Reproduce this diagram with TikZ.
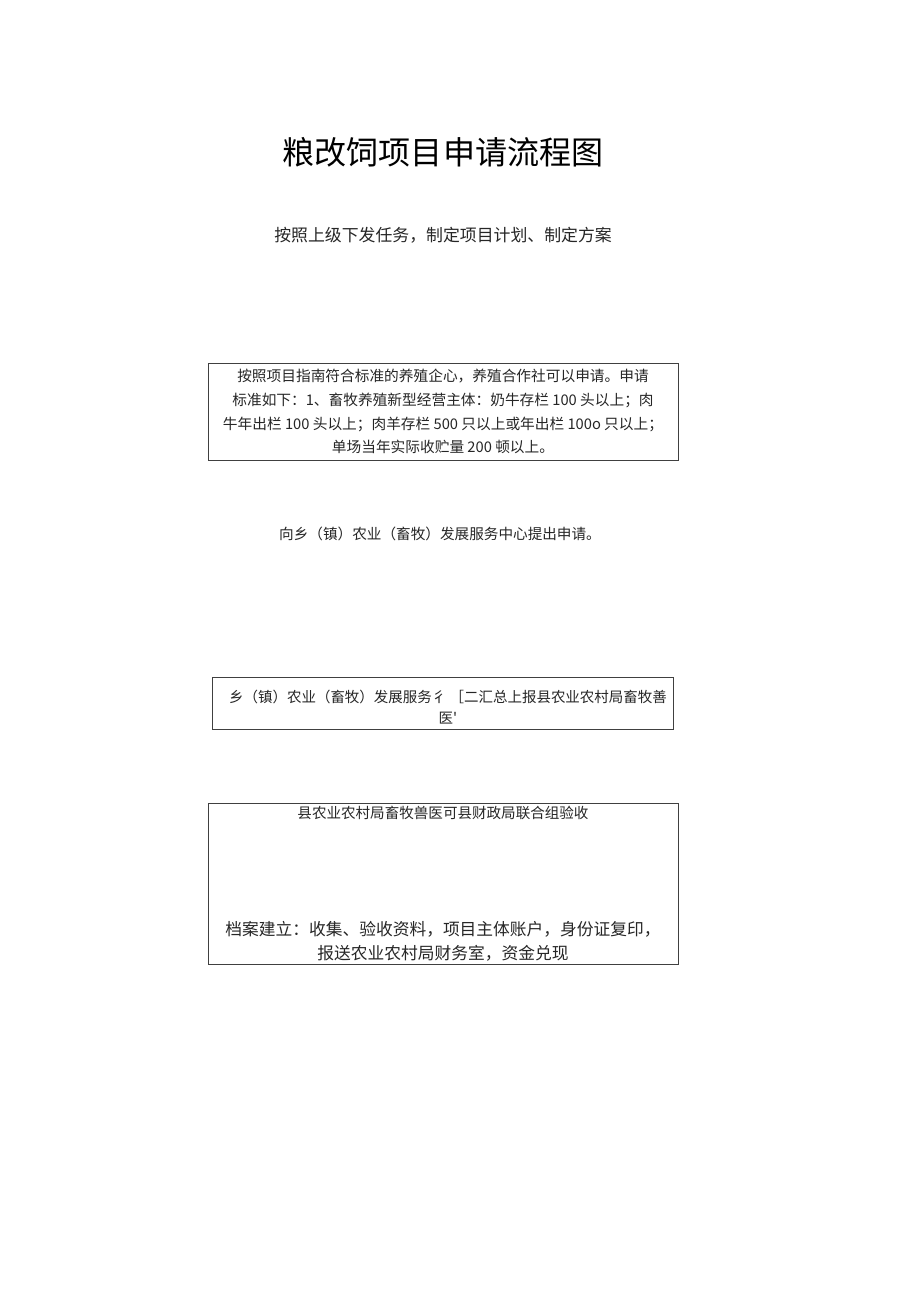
\documentclass[tikz,border=0pt]{standalone}
\usepackage{fontspec}
\newfontfamily\cjk{Noto Sans CJK SC}
\begin{document}
\begin{tikzpicture}[x=0.025cm,y=-0.025cm,
    box/.style={draw=black!75,line width=0.5pt,inner sep=0pt},
    txt/.style 2 args={font=\cjk\fontsize{#1}{#2}\selectfont,text=black!85,align=center,inner sep=0pt}]
\useasboundingbox[fill=white] (0,0) rectangle (920,1301);
\node[font=\cjk\fontsize{22.8}{26}\selectfont] (title) at (443,152) {粮改饲项目申请流程图};
\node[txt={12}{14}] (task) at (443,235) {按照上级下发任务，制定项目计划、制定方案};
    \node[box,txt={10.45}{17},minimum width=11.75cm,minimum height=2.425cm] (standard) at (443,411.5)
    {按照项目指南符合标准的养殖企心，养殖合作社可以申请。申请\\
     标准如下：1、畜牧养殖新型经营主体：奶牛存栏 100 头以上；肉\\
     牛年出栏 100 头以上；肉羊存栏 500 只以上或年出栏 100o 只以上；\\
     单场当年实际收贮量 200 顿以上。};
\node[txt={10.4}{12}] (apply) at (440,534) {向乡（镇）农业（畜牧）发展服务中心提出申请。};
    \node[box,minimum width=11.525cm,minimum height=1.3cm] (report) at (442.5,703) {};
    \node[txt={10.3}{15}] (reporttext) at (448,707.5) {乡（镇）农业（畜牧）发展服务彳 ［二汇总上报县农业农村局畜牧善\\医'};
    \node[box,minimum width=11.75cm,minimum height=4.025cm] (check) at (443,883.5) {};
\node[txt={10.35}{12}] (checktop) at (443,813) {县农业农村局畜牧兽医可县财政局联合组验收};
\node[txt={11.9}{17}] (archive) at (443,941) {档案建立：收集、验收资料，项目主体账户，身份证复印，\\报送农业农村局财务室，资金兑现};
\end{tikzpicture}
\end{document}
